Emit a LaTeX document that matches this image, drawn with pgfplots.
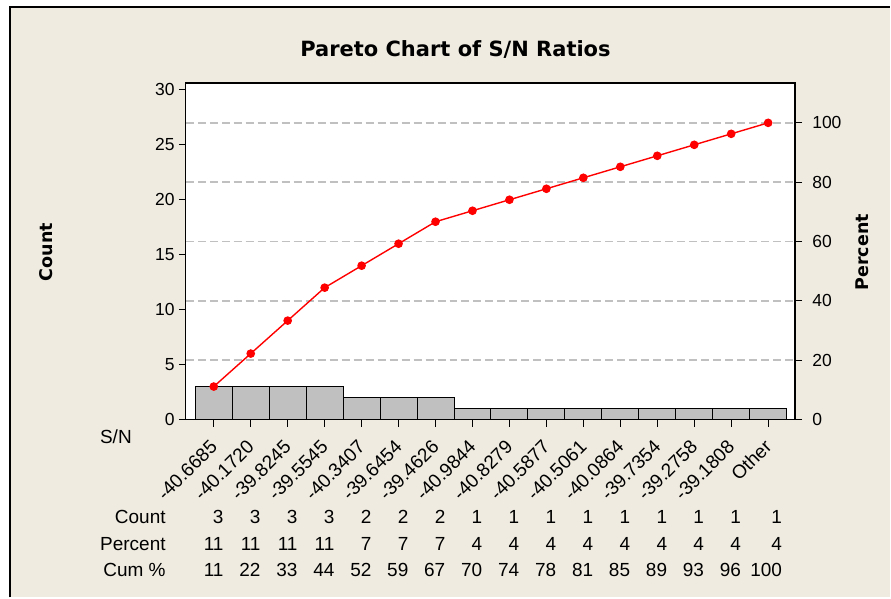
\documentclass[border=0pt]{standalone}
\usepackage{pgfplots}
\pgfplotsset{compat=1.18}
\usepackage{fontspec}
\setmainfont{Liberation Sans}
\newfontfamily\dvs{DejaVu Sans}
\definecolor{bg}{RGB}{239,235,225}
\definecolor{bargray}{RGB}{192,192,192}
\definecolor{gridgray}{RGB}{192,192,192}
\newcommand{\tickfont}{\fontsize{17.5bp}{20bp}\selectfont}
\newcommand{\xtickfont}{\fontsize{19bp}{22bp}\selectfont}
\newcommand{\tabfont}{\fontsize{19bp}{22bp}\selectfont}
\begin{document}
\begin{tikzpicture}[x=1bp,y=1bp]
\fill[white] (0,0) rectangle (891,598);
\fill[bg] (10,0) rectangle (891,591);
\draw[line width=2bp, black] (10,0) -- (10,591) -- (891,591);
% title
\node[anchor=base, inner sep=0pt] at (456,541.4) {\dvs\bfseries\fontsize{21bp}{25bp}\selectfont Pareto Chart of S/N Ratios};
% percent axis (background, grid, right ticks)
\begin{axis}[
 at={(186bp,178bp)}, anchor=south west, scale only axis, width=610bp, height=337bp,
 xmin=-0.757, xmax=15.73, ymin=0, ymax=113.47,
 axis background/.style={fill=white},
 xtick=\empty,
 ytick={0,20,40,60,80,100}, ytick pos=right, yticklabel pos=right,
 ymajorgrids, major grid style={gridgray, dash pattern=on 8bp off 4bp, line width=1.5bp},
 tick align=outside, major tick length=7bp,
 tick style={black, line width=1.2bp},
 axis line style={black, line width=1.3bp},
 yticklabel style={font=\tickfont, inner sep=0pt, xshift=10bp},
 /pgf/number format/assume math mode=true,
]
\end{axis}
% count axis
\begin{axis}[
 at={(186bp,178bp)}, anchor=south west, scale only axis, width=610bp, height=337bp,
 xmin=-0.757, xmax=15.73, ymin=0, ymax=30.636,
 xtick={0,...,15}, xtick pos=bottom,
 xticklabels={-40.6685,-40.1720,-39.8245,-39.5545,-40.3407,-39.6454,-39.4626,-40.9844,-40.8279,-40.5877,-40.5061,-40.0864,-39.7354,-39.2758,-39.1808,Other},
 xticklabel style={font=\xtickfont, rotate=45, anchor=east, inner sep=0pt, xshift=-12bp, yshift=-12bp},
 ytick={0,5,...,30}, ytick pos=left,
 tick align=outside, major tick length=7bp,
 tick style={black, line width=1.2bp},
 axis line style={black, line width=1.3bp},
 yticklabel style={font=\tickfont, inner sep=0pt, xshift=-4bp},
 /pgf/number format/assume math mode=true,
 clip=false,
]
\addplot[ybar, bar width=1, bar shift=0, fill=bargray, draw=black, line width=1bp]
 coordinates {(0,3)(1,3)(2,3)(3,3)(4,2)(5,2)(6,2)(7,1)(8,1)(9,1)(10,1)(11,1)(12,1)(13,1)(14,1)(15,1)};
\addplot[red, line width=1.4bp, mark=*, mark size=3.6bp, mark options={fill=red, draw=red}]
 coordinates {(0,3)(1,6)(2,9)(3,12)(4,14)(5,16)(6,18)(7,19)(8,20)(9,21)(10,22)(11,23)(12,24)(13,25)(14,26)(15,27)};
\end{axis}
% axis titles
\node[rotate=90, anchor=base, inner sep=0pt] at (53,345.5) {\dvs\bfseries\fontsize{17.5bp}{20bp}\selectfont Count};
\node[rotate=90, anchor=base, inner sep=0pt] at (869,345.5) {\dvs\bfseries\fontsize{17.5bp}{20bp}\selectfont Percent};
% table
\node[anchor=base west, inner sep=0pt] at (100,154) {\tabfont S/N};
\node[anchor=base east, inner sep=0pt] at (166,74.2) {\tabfont Count};
\node[anchor=base east, inner sep=0pt] at (166,46.7) {\tabfont Percent};
\node[anchor=base east, inner sep=0pt] at (166,21.2) {\tabfont Cum \%};
\foreach \i/\c/\p/\q in {0/3/11/11,1/3/11/22,2/3/11/33,3/3/11/44,4/2/7/52,5/2/7/59,6/2/7/67,7/1/4/70,8/1/4/74,9/1/4/78,10/1/4/81,11/1/4/85,12/1/4/89,13/1/4/93,14/1/4/96}{
 \node[anchor=base east, inner sep=0pt] at ({224+37*\i},74.2) {\tabfont \c};
 \node[anchor=base east, inner sep=0pt] at ({224+37*\i},46.7) {\tabfont \p};
 \node[anchor=base east, inner sep=0pt] at ({224+37*\i},21.2) {\tabfont \q};
}
\node[anchor=base east, inner sep=0pt] at (783,74.2) {\tabfont 1};
\node[anchor=base east, inner sep=0pt] at (783,46.7) {\tabfont 4};
\node[anchor=base east, inner sep=0pt] at (783,21.2) {\tabfont 100};
\end{tikzpicture}
\end{document}
